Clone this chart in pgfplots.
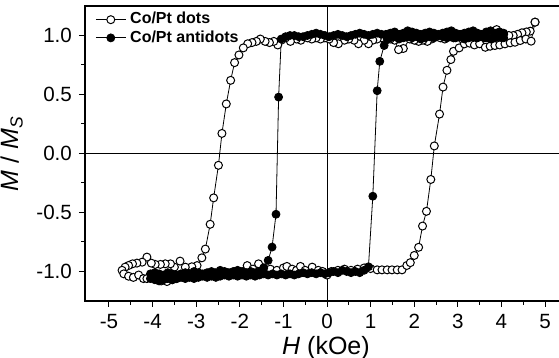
\documentclass[border=0pt]{standalone}
\usepackage{pgfplots}
\pgfplotsset{compat=1.18}
\usepackage{fontspec}
\setmainfont{Liberation Sans}
\begin{document}
\begin{tikzpicture}
\path[use as bounding box] (-42.5pt,-28.5pt) rectangle (237pt,150.5pt);
\begin{axis}[
 at={(0,0)}, anchor=south west,
 scale only axis, width=240.95pt, height=147.5pt,
 xmin=-5.55, xmax=5.5, ymin=-1.25, ymax=1.25,
 xtick={-5,-4,-3,-2,-1,0,1,2,3,4,5}, ytick={-1,-0.5,0,0.5,1},
 minor x tick num=1, minor y tick num=1,
 tick pos=left, tick align=outside,
 major tick length=3pt, minor tick length=1.8pt,
 every tick/.style={black, line width=0.5pt},
 axis line style={line width=0.6pt},
 /pgf/number format/assume math mode=true,
 yticklabel style={/pgf/number format/fixed, /pgf/number format/fixed zerofill, /pgf/number format/precision=1},
 tick label style={font=\fontsize{10.3}{12}\selectfont},
 xlabel={\textit{H} (kOe)},
 ylabel={\textit{M} / \textit{M}\textsubscript{\textit{S}}},
 label style={font=\fontsize{12.5}{14}\selectfont},
 xlabel style={yshift=3pt},
 legend style={at={(0,1)}, anchor=north west, draw=none, fill=none, xshift=4pt, yshift=0pt,
   font=\bfseries\fontsize{8}{9}\selectfont, row sep=-2.2pt, inner sep=1pt},
 legend cell align=left,
 legend image code/.code={\draw[mark repeat=2,mark phase=2,#1] plot coordinates {(0pt,0pt) (7.5pt,0pt) (15pt,0pt)};},
]
\addplot[black, line width=0.5pt, forget plot] coordinates {(0,-1.25) (0,1.25)};
\addplot[black, line width=0.5pt, forget plot] coordinates {(-5.55,0) (5.5,0)};
\addplot[black, line width=0.4pt, mark=*, mark size=2pt, mark options={fill=white, line width=0.5pt}] table {
4.77 1.113
4.66 1.037
4.57 1.03
4.47 1.023
4.37 1.01
4.27 1.00
4.17 1.00
4.05 1.01
3.95 1.03
3.89 1.05
3.80 1.00
3.70 0.99
3.60 0.98
3.50 0.99
3.40 1.00
3.30 0.98
3.20 0.99
3.10 0.97
3.00 0.99
2.90 0.98
2.80 0.99
2.70 0.97
2.60 0.98
2.50 0.99
2.40 0.97
2.30 0.95
2.20 0.96
2.10 0.95
2.00 0.96
1.90 0.97
1.75 0.89
1.64 0.88
1.55 0.96
1.45 0.97
1.35 0.96
1.25 0.98
1.15 0.97
1.05 0.96
0.95 0.93
0.85 0.96
0.72 0.93
0.62 0.96
0.50 0.97
0.40 0.96
0.26 0.93
0.15 0.94
0.05 0.97
-0.05 0.98
-0.15 0.97
-0.25 0.98
-0.35 0.97
-0.45 0.98
-0.60 0.96
-0.70 0.97
-0.84 0.95
-0.95 0.98
-1.05 0.96
-1.13 0.92
-1.22 0.95
-1.32 0.94
-1.42 0.95
-1.53 0.97
-1.62 0.95
-1.72 0.94
-1.82 0.93
-1.92 0.895
-2.02 0.835
-2.12 0.77
-2.21 0.62
-2.31 0.42
-2.41 0.17
-2.49 -0.10
-2.60 -0.376
-2.68 -0.60
-2.79 -0.81
-2.87 -0.884
-2.98 -0.95
-3.10 -0.96
-3.25 -0.963
-3.37 -0.912
-3.50 -0.963
-3.59 -0.935
-3.71 -0.935
-3.82 -0.94
-3.94 -0.94
-4.03 -0.929
-4.13 -0.878
-4.24 -0.921
-4.36 -0.929
-4.46 -0.935
-4.55 -0.949
-4.63 -0.963
-4.70 -0.99
-4.66 -1.02
-4.55 -1.04
-4.44 -1.05
-4.32 -1.03
-4.21 -1.06
-4.13 -1.06
-4.00 -1.05
-3.90 -1.07
-3.80 -1.08
-3.67 -1.085
-3.55 -1.07
-3.45 -1.06
-3.30 -1.05
-3.10 -1.04
-2.90 -1.03
-2.70 -1.02
-2.50 -1.02
-2.30 -1.01
-2.10 -1.00
-1.83 -0.95
-1.70 -0.98
-1.57 -0.935
-1.45 -0.97
-1.30 -0.98
-1.15 -0.99
-1.00 -0.97
-0.92 -0.957
-0.80 -0.98
-0.70 -0.99
-0.61 -0.957
-0.50 -0.99
-0.34 -0.963
-0.20 -0.99
-0.10 -1.00
0.00 -1.03
0.10 -1.00
0.25 -0.99
0.40 -0.98
0.55 -0.99
0.70 -0.98
0.85 -0.97
1.00 -0.975
1.15 -0.986
1.26 -0.986
1.38 -0.986
1.49 -0.986
1.61 -0.986
1.72 -0.986
1.83 -0.949
1.91 -0.925
2.00 -0.864
2.10 -0.795
2.19 -0.615
2.28 -0.49
2.38 -0.22
2.46 0.064
2.58 0.334
2.66 0.563
2.75 0.705
2.84 0.796
2.90 0.866
3.03 0.895
3.15 0.929
3.27 0.935
3.38 0.92
3.50 0.93
3.63 0.90
3.74 0.909
3.85 0.915
3.96 0.92
4.08 0.929
4.20 0.938
4.31 0.943
4.43 0.957
4.56 0.97
4.68 0.952
4.77 1.113
};
\addlegendentry{Co/Pt dots}
\addplot[black, line width=0.4pt, mark=*, mark size=2pt, mark options={fill=black}] table {
4.05 1.02
3.95 1.03
3.85 1.02
3.75 1.04
3.65 1.03
3.55 1.01
3.45 1.02
3.35 1.04
3.25 1.03
3.15 1.02
3.05 1.01
2.95 1.02
2.85 1.04
2.75 1.03
2.65 1.02
2.55 1.01
2.45 1.02
2.35 1.03
2.25 1.02
2.15 1.01
2.05 1.02
1.95 1.03
1.85 1.04
1.75 1.02
1.65 1.01
1.55 1.03
1.45 1.02
1.35 1.01
1.25 1.01
1.15 1.02
1.05 1.01
0.95 1.00
0.85 1.01
0.75 1.02
0.65 1.01
0.55 1.00
0.45 0.99
0.35 1.00
0.25 1.01
0.15 1.00
0.05 0.99
-0.05 1.00
-0.15 1.01
-0.25 1.02
-0.35 1.01
-0.45 1.00
-0.55 0.99
-0.65 0.99
-0.75 1.00
-0.85 1.00
-0.95 0.99
-1.05 0.97
-1.11 0.478
-1.17 -0.515
-1.26 -0.793
-1.35 -0.906
-1.45 -0.97
-1.55 -1.00
-1.65 -1.01
-1.75 -1.00
-1.85 -1.01
-1.95 -1.00
-2.05 -0.99
-2.15 -1.00
-2.25 -1.01
-2.35 -1.00
-2.45 -0.99
-2.55 -1.01
-2.65 -1.00
-2.75 -1.01
-2.85 -1.02
-2.95 -1.01
-3.05 -1.00
-3.15 -1.02
-3.25 -1.01
-3.35 -1.02
-3.45 -1.03
-3.55 -1.02
-3.65 -1.01
-3.75 -1.03
-3.85 -1.02
-3.95 -1.01
-4.05 -1.02
-4.05 -1.06
-3.95 -1.07
-3.85 -1.08
-3.75 -1.07
-3.65 -1.06
-3.55 -1.07
-3.45 -1.06
-3.35 -1.05
-3.25 -1.06
-3.15 -1.05
-3.05 -1.06
-2.95 -1.05
-2.85 -1.04
-2.75 -1.05
-2.65 -1.04
-2.55 -1.05
-2.45 -1.04
-2.35 -1.03
-2.25 -1.04
-2.15 -1.03
-2.05 -1.04
-1.95 -1.03
-1.85 -1.04
-1.75 -1.03
-1.65 -1.04
-1.55 -1.03
-1.45 -1.02
-1.35 -1.03
-1.25 -1.02
-1.15 -1.03
-1.05 -1.02
-0.95 -1.03
-0.85 -1.02
-0.75 -1.03
-0.65 -1.02
-0.55 -1.01
-0.45 -1.02
-0.35 -1.01
-0.25 -1.02
-0.15 -1.01
-0.05 -1.02
0.05 -1.01
0.15 -1.00
0.25 -1.01
0.35 -0.99
0.45 -1.00
0.55 -1.01
0.65 -1.00
0.75 -1.01
0.85 -0.99
0.95 -0.96
1.05 -0.362
1.15 0.532
1.21 0.781
1.31 0.915
1.38 0.97
1.45 0.98
1.55 0.99
1.65 0.97
1.75 0.98
1.85 0.99
1.95 0.98
2.05 0.99
2.15 0.97
2.25 0.98
2.35 0.99
2.45 0.98
2.55 1.00
2.65 0.99
2.75 0.98
2.85 0.99
2.95 0.98
3.05 0.99
3.15 0.97
3.25 0.98
3.35 0.99
3.45 0.98
3.55 0.99
3.65 0.98
3.75 0.97
3.85 0.98
3.95 0.99
4.05 0.98
};
\addlegendentry{Co/Pt antidots}
\end{axis}
\end{tikzpicture}
\end{document}
